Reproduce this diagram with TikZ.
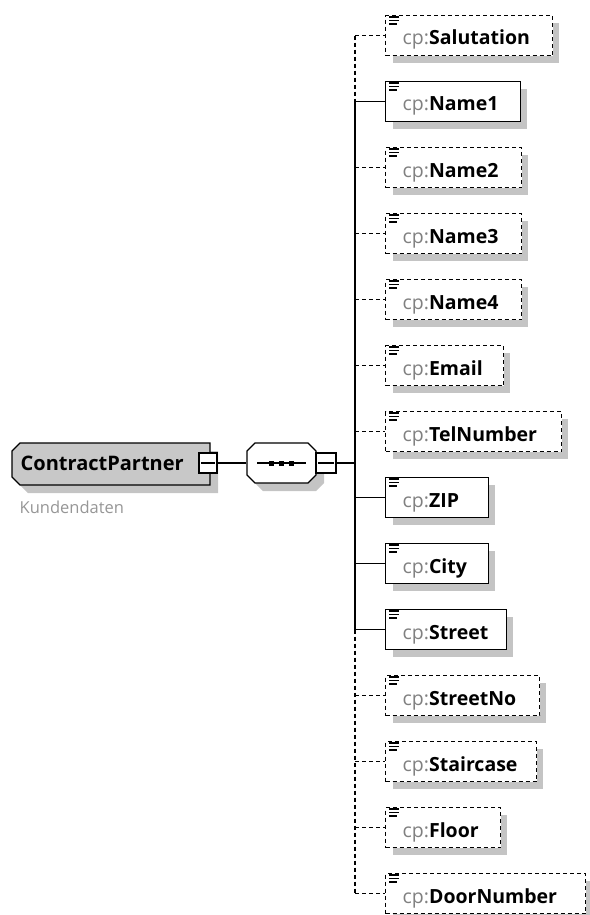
\documentclass[tikz,border=0pt]{standalone}
\usepackage{fontspec}
\setmainfont{Open Sans}
\usetikzlibrary{calc}
\definecolor{shd}{RGB}{196,196,196}
\definecolor{pfx}{RGB}{128,128,128}
\definecolor{nodefill}{RGB}{200,200,200}
\definecolor{anno}{RGB}{150,150,150}
\begin{document}
\begin{tikzpicture}[x=1pt,y=-1pt,line width=1.3pt,
  elem/.style={draw, fill=white, anchor=north west, minimum height=40pt, inner sep=0pt, line width=1.4pt},
  req/.style={elem},
  opt/.style={elem, dash pattern=on 4pt off 3pt},
  optline/.style={dash pattern=on 4pt off 3pt},
  lbl/.style={inner sep=0pt, font=\fontsize{19.5}{22}\selectfont},
  minusbox/.style={draw, fill=white, minimum width=18pt, minimum height=20pt, inner sep=0pt, line width=1.3pt}]
\useasboundingbox (0,0) rectangle (589,915);
% ContractPartner node
\fill[shd] (28,451) -- (218,451) -- (218,493) -- (28,493) -- (20,485) -- (20,459) -- cycle;
\draw[fill=nodefill] (20,443) -- (210,443) -- (210,485) -- (20,485) -- (12,477) -- (12,451) -- cycle;
\node[lbl, font=\bfseries\fontsize{20}{23}\selectfont, anchor=west] (cp) at (20,463) {ContractPartner};
\node[lbl, text=anno, font=\fontsize{16.5}{19}\selectfont, anchor=west] (cpanno) at (19,507) {Kundendaten};
\node[minusbox] (cpm) at (208,463) {};
\draw ($(cpm.west)+(3,0)$) -- ($(cpm.east)+(-3,0)$);
% sequence
\node[minimum width=69pt, minimum height=40pt, inner sep=0pt] (seq) at (281.5,463) {};
\fill[shd] (263,451) -- (316,451) -- (324,459) -- (324,483) -- (316,491) -- (263,491) -- (255,483) -- (255,459) -- cycle;
\draw[fill=white] (255,443) -- (308,443) -- (316,451) -- (316,475) -- (308,483) -- (255,483) -- (247,475) -- (247,451) -- cycle;
\draw (257,463) -- (306,463);
\foreach \sx in {271,281,291} \fill (\sx-2.5,460.5) rectangle (\sx+2.5,465.5);
\node[minusbox, minimum width=20pt] (sm) at (326,463) {};
\draw ($(sm.west)+(3,0)$) -- ($(sm.east)+(-3,0)$);
\draw (cpm.east) -- (seq.west);
\coordinate (tr) at (355,463);
\draw (sm.east) -- (tr);
% elements
\foreach \i/\n/\r/\s in {0/Salutation/552/opt,1/Name1/520/req,2/Name2/521/opt,3/Name3/521/opt,4/Name4/521/opt,5/Email/503/opt,6/TelNumber/561/opt,7/ZIP/488/req,8/City/488/req,9/Street/506/req,10/StreetNo/539/opt,11/Staircase/536/opt,12/Floor/500/opt,13/DoorNumber/585/opt}{
  \fill[shd] (393,{23+66*\i}) rectangle ({\r+7},{63+66*\i});
  \node[\s, minimum width={\r-385}] (\n) at (385,{15+66*\i}) {};
  \draw[line width=1.1pt] (389,{17+66*\i}) -- (399,{17+66*\i}) (389,{20.5+66*\i}) -- (399,{20.5+66*\i}) (389,{24+66*\i}) -- (397,{24+66*\i});
  \node[lbl, anchor=base west] (\n-t) at (402,{45+66*\i}) {\textcolor{pfx}{cp:}\textbf{\n}};
}
% trunk
\draw[optline] (Salutation.west -| tr) -- (Name1.west -| tr);
\draw (Name1.west -| tr) -- (Street.west -| tr);
\draw[optline] (Street.west -| tr) -- (DoorNumber.west -| tr);
\foreach \n in {Salutation,Name2,Name3,Name4,Email,TelNumber,StreetNo,Staircase,Floor,DoorNumber}
  \draw[optline] (\n.west -| tr) -- (\n.west);
\foreach \n in {Name1,ZIP,City,Street}
  \draw (\n.west -| tr) -- (\n.west);
\end{tikzpicture}
\end{document}
